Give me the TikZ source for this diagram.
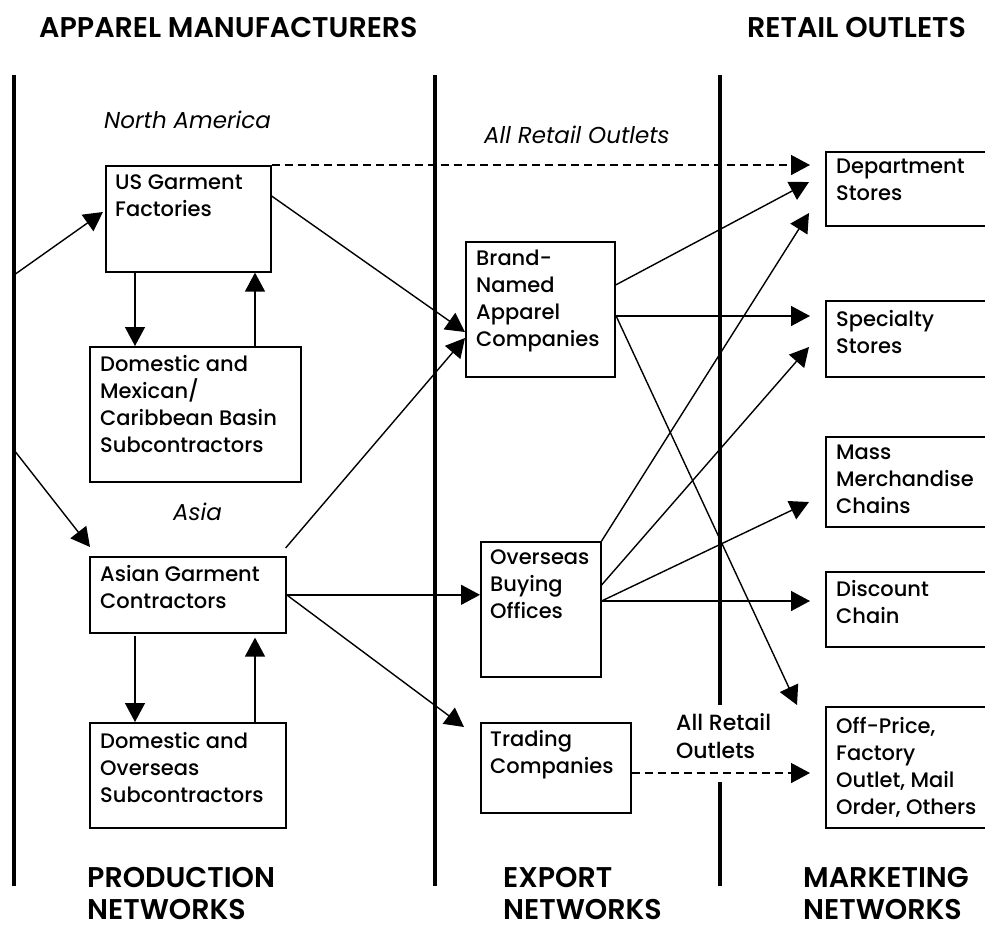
\documentclass[tikz,border=0pt]{standalone}
\usepackage{fontspec}
\setmainfont{Poppins}[BoldFont={Poppins SemiBold}]
\newfontfamily\medfont{Poppins Medium}
\usetikzlibrary{arrows.meta,calc}
\begin{document}
\begin{tikzpicture}[x=1pt,y=-1pt,
  box/.style={draw,line width=1.6pt,anchor=north west,inner sep=0pt},
  btext/.style={anchor=north west,inner sep=0pt,align=left,font=\medfont\fontsize{21}{27}\selectfont},
  conn/.style={line width=1.4pt,-{Triangle[length=19pt,width=20pt]}},
  dconn/.style={conn,dash pattern=on 8pt off 5pt},
  divider/.style={line width=4.5pt},
  head/.style={anchor=base west,inner sep=0pt,align=left,font=\fontsize{28.5}{32}\selectfont\bfseries},
  region/.style={anchor=base west,inner sep=0pt,font=\fontsize{23}{27}\selectfont\itshape},
]
\useasboundingbox (0,0) rectangle (985,930);

% headings
\node[head] (h1) at (39,37) {APPAREL MANUFACTURERS};
\node[head] (h2) at (747,37) {RETAIL OUTLETS};
\node[region] (na) at (104,128) {North America};
\node[region] (aro) at (484,143) {All Retail Outlets};
\node[region] (asia) at (173,520) {Asia};

% dividers
\coordinate (l1t) at (14,75); \coordinate (l1b) at (14,886);
\coordinate (l2t) at (435,75); \coordinate (l2b) at (435,886);
\coordinate (l3t) at (720,75); \coordinate (l3m) at (720,705);
\coordinate (l3n) at (720,782); \coordinate (l3b) at (720,886);
\draw[divider] (l1t) -- (l1b);
\draw[divider] (l2t) -- (l2b);
\draw[divider] (l3t) -- (l3m);
\draw[divider] (l3n) -- (l3b);

% boxes
\node[box,minimum width=165,minimum height=106] (us) at (105,165) {};
\node[box,minimum width=211,minimum height=135] (dom1) at (89,346) {};
\node[box,minimum width=196,minimum height=76] (asian) at (89,556) {};
\node[box,minimum width=196,minimum height=105] (dom2) at (89,722) {};
\node[box,minimum width=149,minimum height=135] (brand) at (465,241) {};
\node[box,minimum width=120,minimum height=135] (overseas) at (480,541) {};
\node[box,minimum width=150,minimum height=90] (trading) at (480,722) {};
\node[box,minimum width=175,minimum height=74] (dept) at (825,151) {};
\node[box,minimum width=175,minimum height=76] (spec) at (825,300) {};
\node[box,minimum width=175,minimum height=90] (mass) at (825,436) {};
\node[box,minimum width=175,minimum height=75] (disc) at (825,571) {};
\node[box,minimum width=175,minimum height=121] (off) at (825,706) {};

% box texts
\node[btext] (ust) at (115,175) {US Garment\\Factories};
\node[btext] (dom1t) at (100,355) {Domestic and\\Mexican/\\Caribbean Basin\\Subcontractors};
\node[btext] (asiant) at (100,565) {Asian Garment\\Contractors};
\node[btext] (dom2t) at (100,732) {Domestic and\\Overseas\\Subcontractors};
\node[btext] (brandt) at (476,250) {Brand-\\Named\\Apparel\\Companies};
\node[btext] (overseast) at (490,550) {Overseas\\Buying\\Offices};
\node[btext] (tradingt) at (490,730) {Trading\\Companies};
\node[btext] (deptt) at (836,159) {Department\\Stores};
\node[btext] (spect) at (836,310) {Specialty\\Stores};
\node[btext] (masst) at (836,445) {Mass\\Merchandise\\Chains};
\node[btext] (disct) at (836,580) {Discount\\Chain};
\node[btext] (offt) at (836,717) {Off-Price,\\Factory\\Outlet, Mail\\Order, Others};
\node[btext,font=\medfont\fontsize{22}{28}\selectfont] (allro) at (676,713) {All Retail\\Outlets};

% bottom headings
\node[head] (pn) at (87,919) {PRODUCTION\\NETWORKS};
\node[head] (en) at (503,919) {EXPORT\\NETWORKS};
\node[head] (mn) at (803,919) {MARKETING\\NETWORKS};

% connectors
\coordinate (la) at (14,275);
\coordinate (lb) at (14,450);
\draw[conn] (la) -- ($(us.north west)+(-2,47)$);
\draw[conn] (lb) -- ($(asian.north west)+(1,-9)$);
\draw[conn] ($(us.south west)+(30,0)$) -- ($(dom1.north west)+(46,0)$);
\draw[conn] ($(dom1.north west)+(166,0)$) -- ($(us.south west)+(150,0)$);
\draw[conn] ($(us.north east)+(0,31)$) -- ($(brand.north west)+(0,91)$);
\draw[conn] ($(asian.north east)+(-1,-8)$) -- ($(brand.north west)+(0,97)$);
\draw[conn] (asian.east) -- (overseas.west |- asian.east);
\draw[conn] (asian.east) -- ($(trading.north west)+(-16,5)$);
\draw[conn] ($(asian.south west)+(46,2)$) -- ($(dom2.north west)+(46,0)$);
\draw[conn] ($(dom2.north west)+(166,0)$) -- ($(asian.south west)+(166,4)$);
\draw[dconn] (us.north east) -- ($(dept.north west)+(-15,14)$);
\draw[conn] ($(brand.north east)+(0,44)$) -- ($(dept.north west)+(-16,31)$);
\draw[conn] ($(brand.north east)+(0,75)$) -- ($(spec.north west)+(-15,16)$);
\draw[conn] ($(brand.north east)+(1,76)$) -- ($(off.north west)+(-28,-1)$);
\draw[conn] (overseas.north east) -- ($(dept.north west)+(-16,62)$);
\draw[conn] ($(overseas.north east)+(0,44)$) -- ($(spec.north west)+(-16,47)$);
\draw[conn] ($(overseas.north east)+(0,60)$) -- ($(mass.north west)+(-16,66)$);
\draw[conn] ($(overseas.north east)+(0,60)$) -- ($(disc.north west)+(-15,30)$);
\draw[dconn] ($(trading.north east)+(0,51)$) -- ($(off.north west)+(-15,67)$);
\end{tikzpicture}
\end{document}
